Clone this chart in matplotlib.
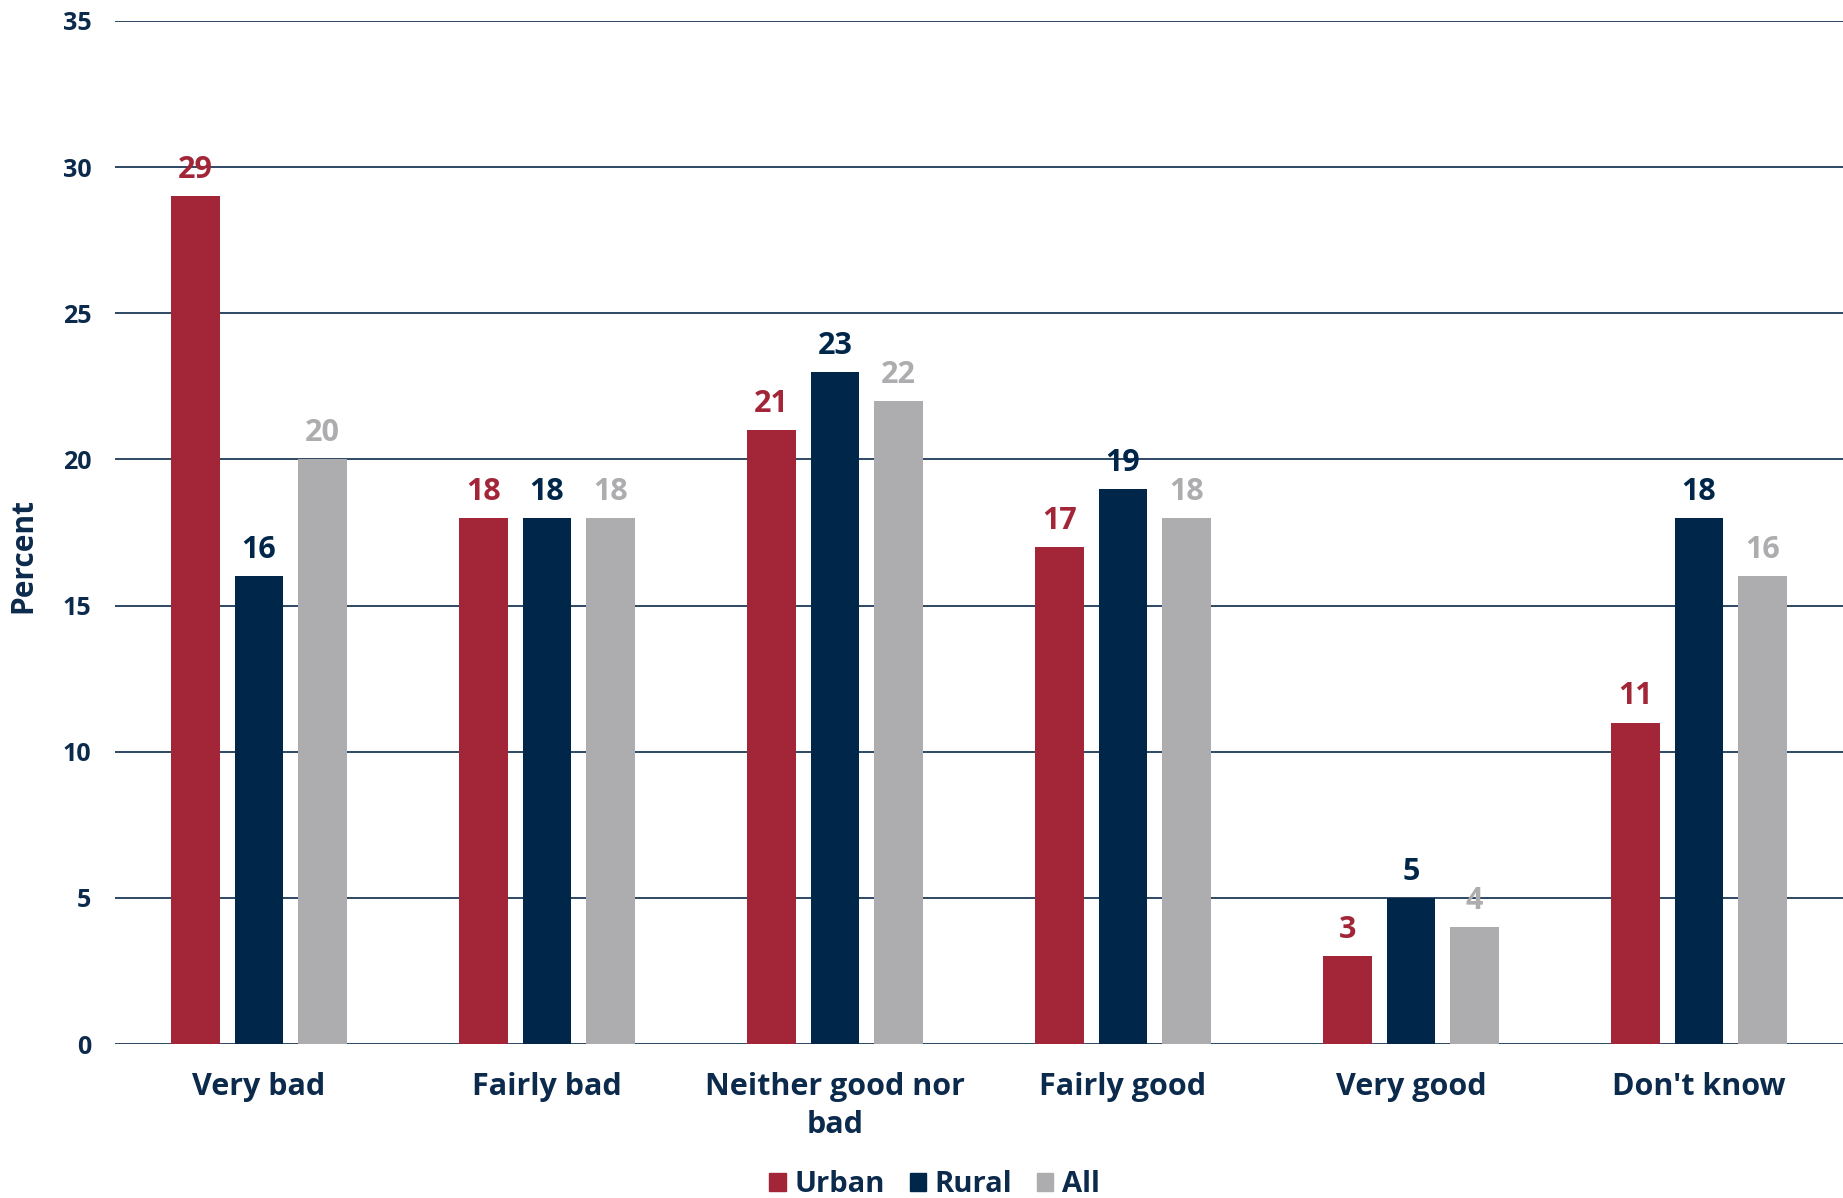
import matplotlib.pyplot as plt
import matplotlib.patches as mpatches
import numpy as np

# -------------------------- data --------------------------
categories = ['Very bad', 'Fairly bad', 'Neither good nor\nbad', 'Fairly good', 'Very good', "Don't know"]
series = ['Urban', 'Rural', 'All']
urban = [29, 18, 21, 17, 3, 11]
rural = [16, 18, 23, 19, 5, 18]
all_ = [20, 18, 22, 18, 4, 16]
yticks = [0, 5, 10, 15, 20, 25, 30, 35]

colors = {'Urban': '#A32638', 'Rural': '#00264A', 'All': '#ADADAF'}
text_color = '#0B2A4C'

plt.rcParams['font.family'] = ['Open Sans', 'DejaVu Sans']
plt.rcParams['font.weight'] = 'bold'

# -------------------------- drawing --------------------------
fig = plt.figure(figsize=(18.43, 11.98), dpi=100)
ax = fig.add_axes([0.0624, 0.1285, 0.9376, 0.854])

x = np.arange(len(categories))
bar_width = 0.17
step = 0.22
values = {'Urban': urban, 'Rural': rural, 'All': all_}

for i, name in enumerate(series):
    pos = x + (i - 1) * step
    bars = ax.bar(pos, values[name], width=bar_width, color=colors[name], zorder=3, label=name)
    for bar, v in zip(bars, values[name]):
        ax.annotate(str(v), xy=(bar.get_x() + bar.get_width() / 2, v), xytext=(0, 8),
                    textcoords='offset points', ha='center', va='bottom',
                    fontsize=22, fontweight='bold', color=colors[name], zorder=5)

ax.set_xlim(-0.5, len(categories) - 0.5)
ax.set_ylim(0, 35)
ax.set_yticks(yticks)
ax.set_xticks(x)
ax.set_xticklabels(categories, fontsize=22, fontweight='bold', color=text_color, linespacing=1.35)
ax.tick_params(axis='both', length=0)
ax.tick_params(axis='y', labelsize=18, labelcolor=text_color, pad=17)
ax.tick_params(axis='x', pad=20)
ax.grid(True, axis='y', color='#0B2A4C', linewidth=1.2, zorder=0)
ax.set_axisbelow(True)
for s in ax.spines.values():
    s.set_visible(False)

ax.set_ylabel('Percent', fontsize=21.5, fontweight='bold', color=text_color)
ax.yaxis.set_label_coords(-0.0445, 0.478)

handles = [mpatches.Patch(color=colors[n], label=n) for n in series]
leg = fig.legend(handles=handles, loc='center', bbox_to_anchor=(0.507, 0.011), ncol=3,
                 frameon=False, fontsize=21, handlelength=0.57, handleheight=0.57,
                 handletextpad=0.28, columnspacing=0.85)
for t in leg.get_texts():
    t.set_color(text_color)
    t.set_fontweight('bold')

plt.savefig('out.png', dpi=100)
